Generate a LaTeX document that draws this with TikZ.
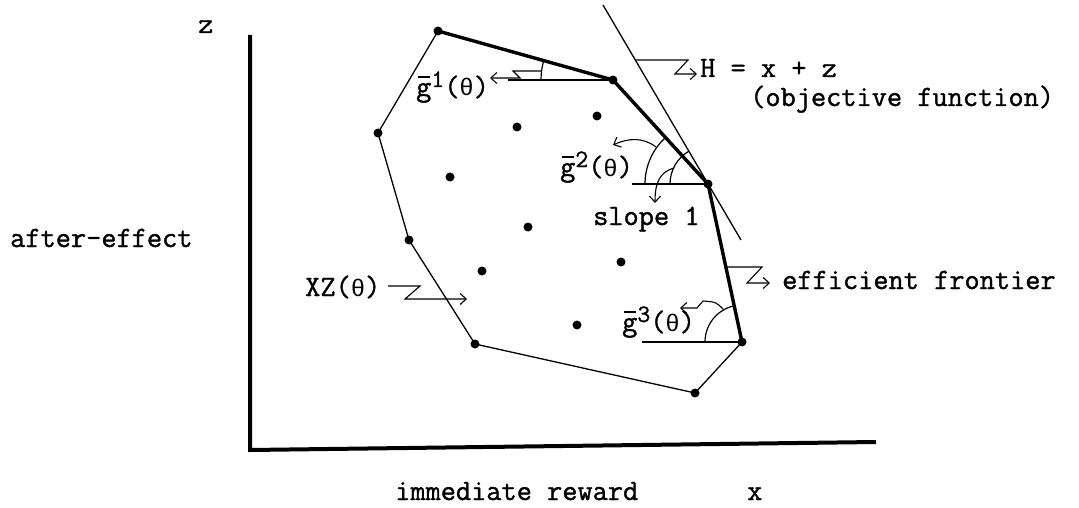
\documentclass[tikz,border=0pt]{standalone}
\usepackage{fontspec}
\newfontfamily\tw{Latin Modern Mono}[FakeBold=1.2]
\newfontfamily\grk{Liberation Mono}
\usetikzlibrary{arrows.meta}
\newcommand{\gbar}{\ooalign{g\cr\hidewidth\raisebox{0.62em}{\rule{0.42em}{0.06em}}\hidewidth\cr}}
\newcommand{\supr}[1]{\raisebox{9pt}{\fontsize{25}{28}\selectfont #1}}
\newcommand{\thet}{{\grk\fontsize{24}{28}\selectfont θ}}
\begin{document}
\begin{tikzpicture}[x=1pt,y=-1pt,
  thinline/.style={line width=1.3pt},
  thickline/.style={line width=3.4pt},
  axisline/.style={line width=4pt},
  reftick/.style={line width=1.2pt},
  leader/.style={line width=1.1pt,-{Straight Barb[length=6pt,width=11pt,line width=1.1pt]}},
  vdot/.style={fill=black,circle,inner sep=0pt,minimum size=9pt},
  lbl/.style={font=\tw\fontsize{29.5}{34}\selectfont,inner sep=0pt,anchor=base west}]
\useasboundingbox (0,0) rectangle (1079,508);
% axes
\coordinate (Ytop) at (250,35);
\coordinate (O) at (250,450);
\coordinate (Xend) at (876,442);
\draw[axisline] (Ytop) -- (O) -- (Xend);
% polygon vertices
\coordinate (A) at (438,31);
\coordinate (B) at (613,80);
\coordinate (C) at (708,184);
\coordinate (D) at (742,342);
\coordinate (E) at (695,393);
\coordinate (F) at (475,344);
\coordinate (G) at (409,240);
\coordinate (H) at (378,133);
\draw[thinline] (A) -- (H) -- (G) -- (F) -- (E) -- (D);
\draw[thickline,line join=round] (A) -- (B) -- (C) -- (D);
% tangent line H = x + z
\coordinate (T1) at (603,5);
\coordinate (T2) at (741,240);
\draw[thinline] (T1) -- (T2);
% angle reference lines
\coordinate (B0) at (508,80);
\coordinate (C0) at (632,184);
\coordinate (D0) at (642,342);
\draw[reftick] (B0) -- (B);
\draw[reftick] (C0) -- (C);
\draw[reftick] (D0) -- (D);
% angle arcs
\draw[reftick] ([shift={(180:72)}]B) arc[start angle=180,end angle=195.6,radius=72];
\draw[reftick] ([shift={(180:63)}]C) arc[start angle=180,end angle=227.6,radius=63];
\draw[reftick] ([shift={(180:38)}]C) arc[start angle=180,end angle=239.6,radius=38];
\draw[reftick] ([shift={(180:37)}]D) arc[start angle=180,end angle=257.9,radius=37];
% dots
\foreach \p in {A,B,C,D,E,F,G,H} \node[vdot] at (\p) {};
\node[vdot] (p1) at (517,127) {};
\node[vdot] (p2) at (597,116) {};
\node[vdot] (p3) at (450,177) {};
\node[vdot] (p4) at (528,227) {};
\node[vdot] (p5) at (482,271) {};
\node[vdot] (p6) at (621,262) {};
\node[vdot] (p7) at (577,325) {};
% labels
\node[lbl] (zlab) at (198,33) {z};
\node[lbl] (ylab) at (10,247) {after-effect};
\node[lbl] (xlab) at (395,500) {immediate reward};
\node[lbl] (xsym) at (747,500) {x};
\node[lbl] (Hlab) at (700,77) {H = x + z};
\node[lbl] (objlab) at (750,106) {(objective function)};
\node[lbl] (g1lab) at (416,96) {\gbar\supr{1}(\thet)};
\node[lbl] (g2lab) at (560,176) {\gbar\supr{2}(\thet)};
\node[lbl] (g3lab) at (622,331) {\gbar\supr{3}(\thet)};
\node[lbl] (slab) at (593,225) {slope 1};
\node[lbl] (xzlab) at (305,296) {XZ(\thet)};
\node[lbl] (eflab) at (782,289) {efficient frontier};
% leaders
\coordinate (hl1) at (636,60); \coordinate (hl2) at (688,60); \coordinate (hl3) at (675,74); \coordinate (hl4) at (697,74);
\draw[leader] (hl1) -- (hl2) -- (hl3) -- (hl4);
\coordinate (gl1) at (541,71); \coordinate (gl2) at (513,71); \coordinate (gl3) at (520,78); \coordinate (gl4) at (490,78);
\draw[leader] (gl1) -- (gl2) -- (gl3) -- (gl4);
\coordinate (g2s) at (656,147); \coordinate (g2e) at (613,145);
\draw[leader] (g2s) .. controls (643,137) and (628,138) .. (g2e);
\coordinate (ss) at (674,168); \coordinate (se) at (655,203);
\draw[leader] (ss) .. controls (660,172) and (655,182) .. (se);
\coordinate (g3s) at (723,309); \coordinate (g3m) at (703,301); \coordinate (g3n) at (697,308); \coordinate (g3e) at (680,308);
\draw[leader] (g3s) .. controls (716,302) .. (g3m) -- (g3n) -- (g3e);
\coordinate (xz1) at (388,286); \coordinate (xz2) at (420,286); \coordinate (xz3) at (405,299); \coordinate (xz4) at (467,299);
\draw[leader] (xz1) -- (xz2) -- (xz3) -- (xz4);
\coordinate (ef1) at (727,267); \coordinate (ef2) at (762,267); \coordinate (ef3) at (747,283); \coordinate (ef4) at (770,283);
\draw[leader] (ef1) -- (ef2) -- (ef3) -- (ef4);
\end{tikzpicture}
\end{document}
